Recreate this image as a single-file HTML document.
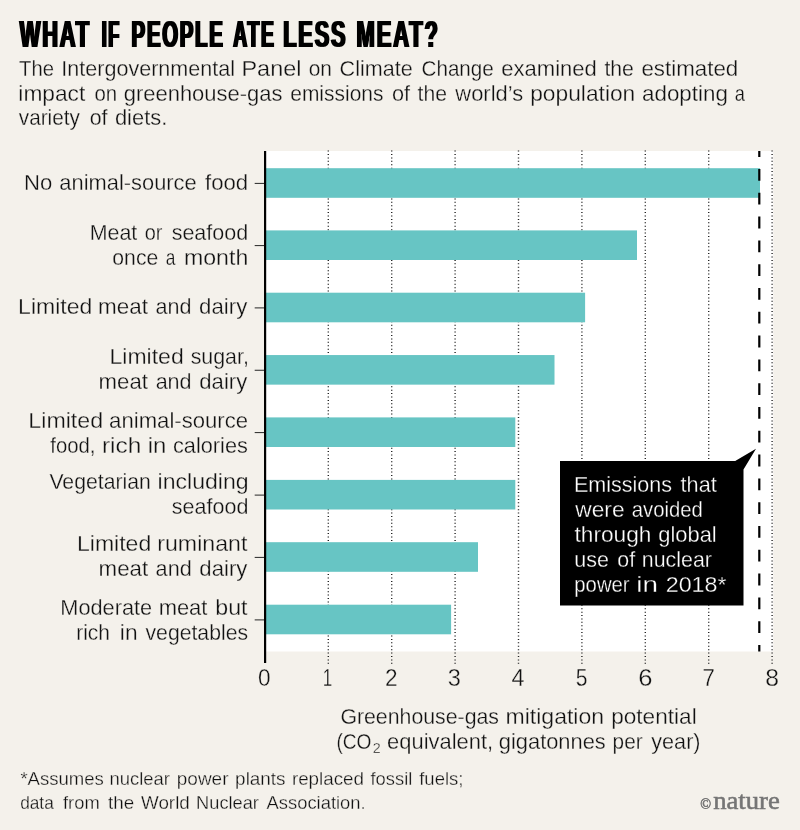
<!DOCTYPE html>
<html lang="en"><head><meta charset="utf-8"><title>What if people ate less meat?</title>
<style>html,body{margin:0;padding:0;background:#f4f1eb}body{width:800px;height:830px;overflow:hidden}svg{display:block}text{font-family:"Liberation Sans",sans-serif;fill:#111;stroke:#f4f1eb;stroke-width:.3px}.w{fill:#fff;stroke:#000}.k{fill:#000;stroke:none}.lg{font-family:"Liberation Serif",serif;fill:#757575;stroke:#757575;stroke-width:.55px}</style>
</head><body>
<svg width="800" height="830" viewBox="0 0 800 830">
<defs><filter id="hv" x="-5%" y="-20%" width="110%" height="140%"><feMorphology operator="dilate" radius="1 0"/></filter></defs>
<rect width="800" height="830" fill="#f4f1eb"/>
<text class="k" y="46.7" font-size="37" font-weight="bold" letter-spacing="3.2" filter="url(#hv)"><tspan x="19.7" textLength="71.4" lengthAdjust="spacingAndGlyphs">WHAT</tspan> <tspan x="101.8" textLength="19.1" lengthAdjust="spacingAndGlyphs">IF</tspan> <tspan x="131.6" textLength="93.0" lengthAdjust="spacingAndGlyphs">PEOPLE</tspan> <tspan x="233.3" textLength="42.1" lengthAdjust="spacingAndGlyphs">ATE</tspan> <tspan x="283.2" textLength="64.2" lengthAdjust="spacingAndGlyphs">LESS</tspan> <tspan x="356.6" textLength="83.2" lengthAdjust="spacingAndGlyphs">MEAT?</tspan></text>
<text y="76.3" font-size="22.5"><tspan x="19.08" textLength="34.94" lengthAdjust="spacingAndGlyphs">The</tspan> <tspan x="61.32" textLength="173.70" lengthAdjust="spacingAndGlyphs">Intergovernmental</tspan> <tspan x="241.46" textLength="60.08" lengthAdjust="spacingAndGlyphs">Panel</tspan> <tspan x="308.75" textLength="23.22" lengthAdjust="spacingAndGlyphs">on</tspan> <tspan x="339.59" textLength="73.08" lengthAdjust="spacingAndGlyphs">Climate</tspan> <tspan x="421.53" textLength="72.30" lengthAdjust="spacingAndGlyphs">Change</tspan> <tspan x="501.31" textLength="95.53" lengthAdjust="spacingAndGlyphs">examined</tspan> <tspan x="604.40" textLength="29.46" lengthAdjust="spacingAndGlyphs">the</tspan> <tspan x="641.40" textLength="96.85" lengthAdjust="spacingAndGlyphs">estimated</tspan></text>
<text y="100.6" font-size="22.5"><tspan x="18.33" textLength="66.99" lengthAdjust="spacingAndGlyphs">impact</tspan> <tspan x="94.46" textLength="22.68" lengthAdjust="spacingAndGlyphs">on</tspan> <tspan x="123.71" textLength="158.77" lengthAdjust="spacingAndGlyphs">greenhouse-gas</tspan> <tspan x="290.24" textLength="93.21" lengthAdjust="spacingAndGlyphs">emissions</tspan> <tspan x="391.92" textLength="18.10" lengthAdjust="spacingAndGlyphs">of</tspan> <tspan x="417.60" textLength="29.46" lengthAdjust="spacingAndGlyphs">the</tspan> <tspan x="455.34" textLength="67.84" lengthAdjust="spacingAndGlyphs">world’s</tspan> <tspan x="530.18" textLength="105.10" lengthAdjust="spacingAndGlyphs">population</tspan> <tspan x="642.00" textLength="85.86" lengthAdjust="spacingAndGlyphs">adopting</tspan> <tspan x="734.83" textLength="10.15" lengthAdjust="spacingAndGlyphs">a</tspan></text>
<text y="125.0" font-size="22.5"><tspan x="18.80" textLength="61.10" lengthAdjust="spacingAndGlyphs">variety</tspan> <tspan x="89.63" textLength="17.79" lengthAdjust="spacingAndGlyphs">of</tspan> <tspan x="114.92" textLength="52.36" lengthAdjust="spacingAndGlyphs">diets.</tspan></text>
<rect x="265" y="151" width="508.2" height="500.5" fill="#fff"/>
<line x1="328.3" x2="328.3" y1="150.6" y2="664" stroke="#222" stroke-width="1.4" stroke-dasharray="1 2.415"/>
<line x1="391.7" x2="391.7" y1="150.6" y2="664" stroke="#222" stroke-width="1.4" stroke-dasharray="1 2.415"/>
<line x1="455.1" x2="455.1" y1="150.6" y2="664" stroke="#222" stroke-width="1.4" stroke-dasharray="1 2.415"/>
<line x1="518.5" x2="518.5" y1="150.6" y2="664" stroke="#222" stroke-width="1.4" stroke-dasharray="1 2.415"/>
<line x1="581.9" x2="581.9" y1="150.6" y2="664" stroke="#222" stroke-width="1.4" stroke-dasharray="1 2.415"/>
<line x1="645.3" x2="645.3" y1="150.6" y2="664" stroke="#222" stroke-width="1.4" stroke-dasharray="1 2.415"/>
<line x1="708.7" x2="708.7" y1="150.6" y2="664" stroke="#222" stroke-width="1.4" stroke-dasharray="1 2.415"/>
<line x1="772.1" x2="772.1" y1="150.6" y2="664" stroke="#222" stroke-width="1.4" stroke-dasharray="1 2.415"/>
<rect x="265" y="168.20" width="495.0" height="29.6" fill="#67c5c4"/>
<rect x="265" y="230.40" width="372.0" height="29.6" fill="#67c5c4"/>
<rect x="265" y="292.70" width="320.1" height="29.6" fill="#67c5c4"/>
<rect x="265" y="355.05" width="289.5" height="29.6" fill="#67c5c4"/>
<rect x="265" y="417.40" width="250.3" height="29.6" fill="#67c5c4"/>
<rect x="265" y="479.90" width="250.3" height="29.6" fill="#67c5c4"/>
<rect x="265" y="542.20" width="213.0" height="29.6" fill="#67c5c4"/>
<rect x="265" y="604.70" width="186.1" height="29.6" fill="#67c5c4"/>
<line x1="254.7" x2="265" y1="183.40" y2="183.40" stroke="#262626" stroke-width="1"/>
<line x1="254.7" x2="265" y1="245.60" y2="245.60" stroke="#262626" stroke-width="1"/>
<line x1="254.7" x2="265" y1="307.90" y2="307.90" stroke="#262626" stroke-width="1"/>
<line x1="254.7" x2="265" y1="370.25" y2="370.25" stroke="#262626" stroke-width="1"/>
<line x1="254.7" x2="265" y1="432.60" y2="432.60" stroke="#262626" stroke-width="1"/>
<line x1="254.7" x2="265" y1="495.10" y2="495.10" stroke="#262626" stroke-width="1"/>
<line x1="254.7" x2="265" y1="557.40" y2="557.40" stroke="#262626" stroke-width="1"/>
<line x1="254.7" x2="265" y1="619.90" y2="619.90" stroke="#262626" stroke-width="1"/>
<line x1="265.1" x2="265.1" y1="151" y2="663" stroke="#000" stroke-width="2.2"/>
<line x1="759.3" x2="759.3" y1="151" y2="651.5" stroke="#000" stroke-width="2.2" stroke-dasharray="11.8 12" stroke-dashoffset="5.8"/>
<text y="189.8" font-size="22.5"><tspan x="23.98" textLength="28.22" lengthAdjust="spacingAndGlyphs">No</tspan> <tspan x="59.32" textLength="137.37" lengthAdjust="spacingAndGlyphs">animal-source</tspan> <tspan x="205.00" textLength="43.14" lengthAdjust="spacingAndGlyphs">food</tspan></text>
<text y="239.5" font-size="22.5"><tspan x="89.73" textLength="47.60" lengthAdjust="spacingAndGlyphs">Meat</tspan> <tspan x="144.78" textLength="17.72" lengthAdjust="spacingAndGlyphs">or</tspan> <tspan x="171.66" textLength="76.54" lengthAdjust="spacingAndGlyphs">seafood</tspan></text>
<text y="264.5" font-size="22.5"><tspan x="112.34" textLength="45.92" lengthAdjust="spacingAndGlyphs">once</tspan> <tspan x="165.86" textLength="9.63" lengthAdjust="spacingAndGlyphs">a</tspan> <tspan x="183.95" textLength="64.35" lengthAdjust="spacingAndGlyphs">month</tspan></text>
<text y="314.2" font-size="22.5"><tspan x="18.10" textLength="74.19" lengthAdjust="spacingAndGlyphs">Limited</tspan> <tspan x="98.00" textLength="49.93" lengthAdjust="spacingAndGlyphs">meat</tspan> <tspan x="155.43" textLength="35.99" lengthAdjust="spacingAndGlyphs">and</tspan> <tspan x="199.11" textLength="48.19" lengthAdjust="spacingAndGlyphs">dairy</tspan></text>
<text y="363.5" font-size="22.5"><tspan x="109.60" textLength="74.09" lengthAdjust="spacingAndGlyphs">Limited</tspan> <tspan x="190.67" textLength="58.23" lengthAdjust="spacingAndGlyphs">sugar,</tspan></text>
<text y="388.5" font-size="22.5"><tspan x="98.61" textLength="49.31" lengthAdjust="spacingAndGlyphs">meat</tspan> <tspan x="155.63" textLength="35.99" lengthAdjust="spacingAndGlyphs">and</tspan> <tspan x="199.31" textLength="47.99" lengthAdjust="spacingAndGlyphs">dairy</tspan></text>
<text y="428.0" font-size="22.5"><tspan x="28.39" textLength="74.71" lengthAdjust="spacingAndGlyphs">Limited</tspan> <tspan x="109.11" textLength="138.99" lengthAdjust="spacingAndGlyphs">animal-source</tspan></text>
<text y="453.0" font-size="22.5"><tspan x="50.30" textLength="45.22" lengthAdjust="spacingAndGlyphs">food,</tspan> <tspan x="101.97" textLength="39.40" lengthAdjust="spacingAndGlyphs">rich</tspan> <tspan x="147.70" textLength="18.64" lengthAdjust="spacingAndGlyphs">in</tspan> <tspan x="172.92" textLength="74.96" lengthAdjust="spacingAndGlyphs">calories</tspan></text>
<text y="489.0" font-size="22.5"><tspan x="49.40" textLength="101.39" lengthAdjust="spacingAndGlyphs">Vegetarian</tspan> <tspan x="157.56" textLength="91.14" lengthAdjust="spacingAndGlyphs">including</tspan></text>
<text y="514.0" font-size="22.5"><tspan x="171.86" textLength="76.54" lengthAdjust="spacingAndGlyphs">seafood</tspan></text>
<text y="550.8" font-size="22.5"><tspan x="76.95" textLength="74.35" lengthAdjust="spacingAndGlyphs">Limited</tspan> <tspan x="157.30" textLength="90.02" lengthAdjust="spacingAndGlyphs">ruminant</tspan></text>
<text y="575.8" font-size="22.5"><tspan x="98.61" textLength="49.52" lengthAdjust="spacingAndGlyphs">meat</tspan> <tspan x="155.62" textLength="36.20" lengthAdjust="spacingAndGlyphs">and</tspan> <tspan x="199.31" textLength="48.09" lengthAdjust="spacingAndGlyphs">dairy</tspan></text>
<text y="614.5" font-size="22.5"><tspan x="60.30" textLength="91.83" lengthAdjust="spacingAndGlyphs">Moderate</tspan> <tspan x="158.63" textLength="48.80" lengthAdjust="spacingAndGlyphs">meat</tspan> <tspan x="215.30" textLength="32.22" lengthAdjust="spacingAndGlyphs">but</tspan></text>
<text y="639.5" font-size="22.5"><tspan x="76.19" textLength="33.73" lengthAdjust="spacingAndGlyphs">rich</tspan> <tspan x="119.83" textLength="17.70" lengthAdjust="spacingAndGlyphs">in</tspan> <tspan x="145.50" textLength="102.56" lengthAdjust="spacingAndGlyphs">vegetables</tspan></text>
<text y="686.0" font-size="23.2"><tspan x="257.89" textLength="12.57" lengthAdjust="spacingAndGlyphs">0</tspan> <tspan x="322.74" textLength="9.45" lengthAdjust="spacingAndGlyphs">1</tspan> <tspan x="384.94" textLength="12.58" lengthAdjust="spacingAndGlyphs">2</tspan> <tspan x="447.86" textLength="13.09" lengthAdjust="spacingAndGlyphs">3</tspan> <tspan x="511.64" textLength="12.94" lengthAdjust="spacingAndGlyphs">4</tspan> <tspan x="575.74" textLength="11.71" lengthAdjust="spacingAndGlyphs">5</tspan> <tspan x="638.20" textLength="14.24" lengthAdjust="spacingAndGlyphs">6</tspan> <tspan x="702.56" textLength="12.34" lengthAdjust="spacingAndGlyphs">7</tspan> <tspan x="765.23" textLength="13.78" lengthAdjust="spacingAndGlyphs">8</tspan></text>
<text y="724.2" font-size="22.5"><tspan x="340.40" textLength="158.56" lengthAdjust="spacingAndGlyphs">Greenhouse-gas</tspan> <tspan x="505.56" textLength="98.53" lengthAdjust="spacingAndGlyphs">mitigation</tspan> <tspan x="611.19" textLength="85.50" lengthAdjust="spacingAndGlyphs">potential</tspan></text>
<text y="748.9" font-size="22.5"><tspan x="336.40" textLength="35.03" lengthAdjust="spacingAndGlyphs">(CO</tspan><tspan x="372.83" dy="3.8" font-size="14" textLength="7.95" lengthAdjust="spacingAndGlyphs">2</tspan> <tspan x="387.12" dy="-3.8" textLength="106.02" lengthAdjust="spacingAndGlyphs">equivalent,</tspan> <tspan x="498.82" textLength="106.97" lengthAdjust="spacingAndGlyphs">gigatonnes</tspan> <tspan x="612.60" textLength="30.00" lengthAdjust="spacingAndGlyphs">per</tspan> <tspan x="651.30" textLength="49.22" lengthAdjust="spacingAndGlyphs">year)</tspan></text>
<path d="M560 461H735.2L756 448.8L743.5 469.6V605.6H560Z" fill="#000"/>
<text class="w" y="491.5" font-size="22.5"><tspan x="573.92" textLength="98.16" lengthAdjust="spacingAndGlyphs">Emissions</tspan> <tspan x="680.60" textLength="36.13" lengthAdjust="spacingAndGlyphs">that</tspan></text>
<text class="w" y="516.6" font-size="22.5"><tspan x="575.35" textLength="49.16" lengthAdjust="spacingAndGlyphs">were</tspan> <tspan x="631.77" textLength="70.97" lengthAdjust="spacingAndGlyphs">avoided</tspan></text>
<text class="w" y="541.6" font-size="22.5"><tspan x="574.50" textLength="76.97" lengthAdjust="spacingAndGlyphs">through</tspan> <tspan x="658.32" textLength="58.43" lengthAdjust="spacingAndGlyphs">global</tspan></text>
<text class="w" y="566.7" font-size="22.5"><tspan x="574.26" textLength="34.61" lengthAdjust="spacingAndGlyphs">use</tspan> <tspan x="617.33" textLength="17.79" lengthAdjust="spacingAndGlyphs">of</tspan> <tspan x="641.87" textLength="70.04" lengthAdjust="spacingAndGlyphs">nuclear</tspan></text>
<text class="w" y="591.8" font-size="22.5"><tspan x="574.33" textLength="55.27" lengthAdjust="spacingAndGlyphs">power</tspan> <tspan x="636.26" textLength="21.71" lengthAdjust="spacingAndGlyphs">in</tspan> <tspan x="665.71" textLength="60.82" lengthAdjust="spacingAndGlyphs">2018*</tspan></text>
<text y="784.6" font-size="18.6"><tspan x="20.41" textLength="83.47" lengthAdjust="spacingAndGlyphs">*Assumes</tspan> <tspan x="109.55" textLength="60.44" lengthAdjust="spacingAndGlyphs">nuclear</tspan> <tspan x="176.81" textLength="51.68" lengthAdjust="spacingAndGlyphs">power</tspan> <tspan x="235.12" textLength="50.47" lengthAdjust="spacingAndGlyphs">plants</tspan> <tspan x="291.92" textLength="72.13" lengthAdjust="spacingAndGlyphs">replaced</tspan> <tspan x="370.50" textLength="41.81" lengthAdjust="spacingAndGlyphs">fossil</tspan> <tspan x="419.20" textLength="44.28" lengthAdjust="spacingAndGlyphs">fuels;</tspan></text>
<text y="809.4" font-size="18.6"><tspan x="20.16" textLength="33.63" lengthAdjust="spacingAndGlyphs">data</tspan> <tspan x="63.00" textLength="36.65" lengthAdjust="spacingAndGlyphs">from</tspan> <tspan x="108.10" textLength="26.16" lengthAdjust="spacingAndGlyphs">the</tspan> <tspan x="141.00" textLength="48.76" lengthAdjust="spacingAndGlyphs">World</tspan> <tspan x="196.08" textLength="62.81" lengthAdjust="spacingAndGlyphs">Nuclear</tspan> <tspan x="266.50" textLength="99.16" lengthAdjust="spacingAndGlyphs">Association.</tspan></text>
<text class="lg" y="809.3"><tspan x="700.3" font-size="14.8" textLength="10.8" lengthAdjust="spacingAndGlyphs">©</tspan><tspan x="713.2" font-size="25.5" textLength="66.6" lengthAdjust="spacingAndGlyphs">nature</tspan></text>
</svg>
</body></html>
